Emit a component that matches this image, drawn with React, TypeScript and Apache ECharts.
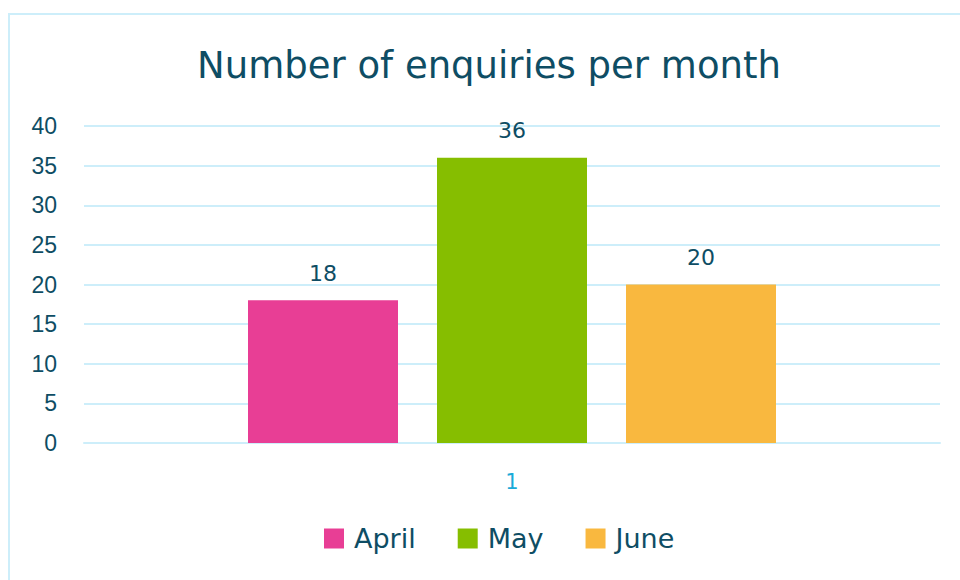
import React, { useEffect, useRef } from "react";
import * as echarts from "echarts";

const categories = ["1"];
const seriesNames = ["April", "May", "June"];
const seriesValues = [[18], [36], [20]];
const seriesColors = ["#E83E95", "#86BE00", "#F9B83F"];
const yTicks = { min: 0, max: 40, interval: 5 };

const DARK = "#0E4D64";
const TFONT = "DejaVu Sans";

export default function App() {
  const ref = useRef<HTMLDivElement>(null);
  useEffect(() => {
    if (!ref.current) return;
    const chart = echarts.init(ref.current, null, { renderer: "svg" });
    chart.setOption({
      animation: false,
      backgroundColor: "#ffffff",
      title: {
        text: "Number of enquiries per month",
        left: 484,
        textAlign: "center",
        top: 42,
        textStyle: { color: DARK, fontSize: 37, fontWeight: "normal", fontFamily: TFONT },
      },
      graphic: [
        {
          type: "rect",
          shape: { x: 9, y: 14, width: 980, height: 600 },
          style: { fill: "none", stroke: "#CDEEFA", lineWidth: 2 },
          silent: true,
        },
      ],
      grid: { left: 84, right: 20, top: 126, bottom: 137, containLabel: false },
      legend: {
        bottom: 28,
        left: 324,
        padding: 0,
        itemWidth: 20,
        itemHeight: 20,
        itemGap: 42,
        icon: "rect",
        textStyle: { color: DARK, fontSize: 27, fontFamily: TFONT, padding: [0, 0, 0, 5] },
        data: seriesNames,
      },
      xAxis: {
        type: "category",
        data: categories,
        axisLine: { show: true, lineStyle: { color: "#CDEEFA", width: 2 } },
        axisTick: { show: false },
        axisLabel: { color: "#1AAAD8", fontSize: 21, margin: 28, fontFamily: TFONT },
      },
      yAxis: {
        type: "value",
        min: yTicks.min,
        max: yTicks.max,
        interval: yTicks.interval,
        axisLine: { show: false },
        axisTick: { show: false },
        axisLabel: { color: DARK, fontSize: 23, margin: 27, fontFamily: "Liberation Sans" },
        splitLine: { lineStyle: { color: "#CDEEFA", width: 2 } },
      },
      series: seriesNames.map((name, i) => ({
        name,
        type: "bar",
        data: seriesValues[i],
        barWidth: 150,
        barGap: "26%",
        itemStyle: { color: seriesColors[i] },
        label: {
          show: true,
          position: "top",
          distance: 16,
          color: DARK,
          fontSize: 22,
          fontFamily: TFONT,
        },
      })),
    });
    return () => chart.dispose();
  }, []);
  return (
    <div
      ref={ref}
      style={{ position: "absolute", left: 0, top: 0, width: 960, height: 580 }}
    />
  );
}
